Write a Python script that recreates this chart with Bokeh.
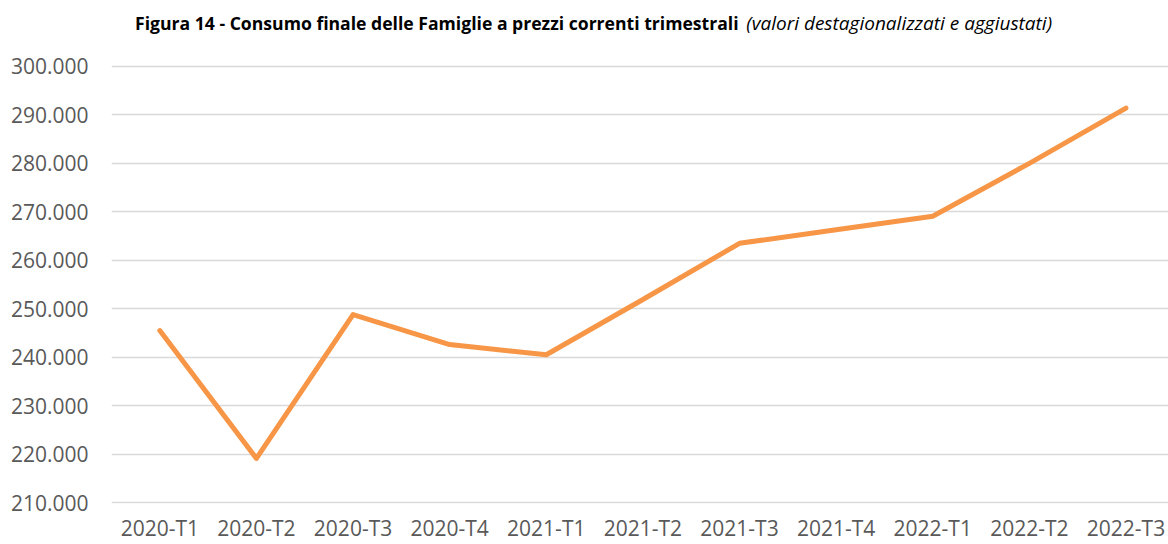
from bokeh.plotting import figure
from bokeh.models import Range1d, FixedTicker, CustomJSTickFormatter, Label
from bokeh.embed import file_html
from bokeh.resources import INLINE

categories = ["2020-T1", "2020-T2", "2020-T3", "2020-T4",
              "2021-T1", "2021-T2", "2021-T3", "2021-T4",
              "2022-T1", "2022-T2", "2022-T3"]
consumo = [245500, 219100, 248800, 242600, 240500, 251900,
           263500, 266300, 269100, 280000, 291400]
y_ticks = [210000, 220000, 230000, 240000, 250000, 260000,
           270000, 280000, 290000, 300000]
title_bold = "Figura 14 - Consumo finale delle Famiglie a prezzi correnti trimestrali"
title_italic = "(valori destagionalizzati e aggiustati)"

xs = [i + 0.5 for i in range(len(categories))]

p = figure(width=1168, height=544, output_backend="svg", toolbar_location=None,
           x_range=Range1d(0, 10.94), y_range=Range1d(209800, 313620),
           min_border_left=111, min_border_right=0, min_border_top=0,
           min_border_bottom=41)
p.outline_line_color = None
p.background_fill_color = "white"
p.border_fill_color = "white"

p.line(xs, consumo, line_color="#F79646", line_width=5, line_cap="round",
       line_join="round")

p.xgrid.grid_line_color = None
p.ygrid.grid_line_color = "#D9D9D9"
p.ygrid.grid_line_width = 1.5

p.yaxis.ticker = FixedTicker(ticks=y_ticks)
p.yaxis.formatter = CustomJSTickFormatter(code="return (tick/1000).toFixed(3);")
p.xaxis.ticker = FixedTicker(ticks=xs)
p.xaxis.major_label_overrides = {x: c for x, c in zip(xs, categories)}

for ax in (p.xaxis[0], p.yaxis[0]):
    ax.axis_line_color = None
    ax.major_tick_line_color = None
    ax.minor_tick_line_color = None
    ax.major_tick_out = 0
    ax.major_tick_in = 0
    ax.minor_tick_out = 0
    ax.minor_tick_in = 0
    ax.major_label_text_font = "Open Sans"
    ax.major_label_text_font_size = "21px"
    ax.major_label_text_color = "#595959"
p.yaxis.major_label_standoff = 23
p.xaxis.major_label_standoff = 10

p.add_layout(Label(x=6.49, y=309060, text=title_bold, text_align="right",
                   text_baseline="middle", text_font="Open Sans",
                   text_font_style="bold", text_font_size="17.6px",
                   text_color="#000000"))
p.add_layout(Label(x=6.57, y=309060, text=title_italic, text_align="left",
                   text_baseline="middle", text_font="Open Sans",
                   text_font_style="italic", text_font_size="19px",
                   text_color="#000000"))

open("out.html", "w").write(file_html(p, INLINE))
